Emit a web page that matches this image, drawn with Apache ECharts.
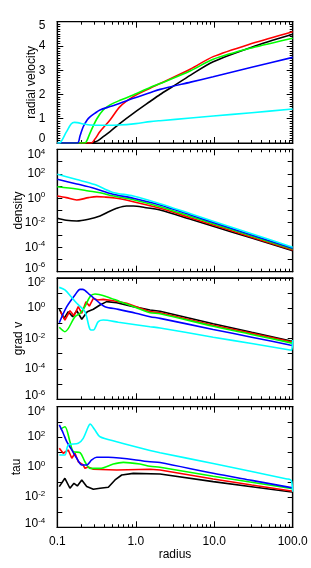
<!DOCTYPE html>
<html><head><meta charset="utf-8">
<script src="https://cdn.jsdelivr.net/npm/echarts@6/dist/echarts.min.js"></script>
<style>html,body{margin:0;padding:0;background:#fff}#c{width:311px;height:568px}</style>
</head><body><div id="c"></div>
<script>
// ---- tick values / labels ----
const xTicks = [0.1, 1, 10, 100];
const xTickLabels = ['0.1', '1.0', '10.0', '100.0'];
const xMinorTicks = [0.2,0.3,0.4,0.5,0.6,0.7,0.8,0.9,2,3,4,5,6,7,8,9,20,30,40,50,60,70,80,90];
const panelNames = ['radial velocity', 'density', 'grad v', 'tau'];
const xName = 'radius';
const velTicks = [0, 1, 2, 3, 4, 5];
const denLabelTicks = [1e-6, 1e-4, 1e-2, 1, 1e2, 1e4];
const denTicks = [1e-6,1e-5,1e-4,1e-3,1e-2,1e-1,1,1e1,1e2,1e3,1e4];
const gradLabelTicks = [1e-6, 1e-4, 1e-2, 1, 1e2];
const gradTicks = [1e-6,1e-5,1e-4,1e-3,1e-2,1e-1,1,1e1,1e2];
const tauLabelTicks = [1e-4, 1e-2, 1, 1e2, 1e4];
const tauTicks = [1e-4,1e-3,1e-2,1e-1,1,1e1,1e2,1e3,1e4];

// ---- panel 1: radial velocity ----
const velBlack = [[0.1,0],[0.28,0],[0.3,0.04],[0.33,0.1],[0.385,0.26],[0.47,0.47],[0.63,0.81],[0.93,1.22],[1.52,1.71],[2.04,2.0],[2.86,2.3],[5,2.8],[9.7,3.35],[30,3.95],[100,4.48]];
const velRed = [[0.1,0],[0.27,0],[0.3,0.15],[0.35,0.47],[0.47,0.95],[0.63,1.5],[0.93,1.91],[1.52,2.26],[2.04,2.45],[5,3.05],[9.7,3.56],[30,4.1],[100,4.59]];
const velGreen = [[0.1,0],[0.225,0],[0.24,0.12],[0.261,0.41],[0.318,0.99],[0.385,1.36],[0.47,1.57],[0.63,1.76],[0.93,1.98],[1.52,2.29],[2.04,2.45],[5,2.98],[9.7,3.45],[30,3.92],[100,4.32]];
const velBlue = [[0.1,0],[0.18,0],[0.195,0.3],[0.214,0.67],[0.24,0.95],[0.261,1.08],[0.3,1.22],[0.35,1.36],[0.47,1.5],[0.63,1.64],[0.93,1.84],[1.52,2.07],[2.04,2.21],[5,2.51],[9.7,2.73],[30,3.12],[100,3.53]];
const velCyan = [[0.1,0],[0.106,0],[0.13,0.45],[0.15,0.78],[0.165,0.85],[0.18,0.84],[0.22,0.78],[0.26,0.74],[0.4,0.73],[0.6,0.74],[1,0.8],[1.52,0.88],[2.04,0.92],[5,1.03],[9.7,1.11],[30,1.25],[100,1.4]];

// ---- panel 2: density ----
const denBlack = [[0.1,0.0229],[0.13,0.0158],[0.177,0.0138],[0.25,0.0191],[0.35,0.0355],[0.45,0.0794],[0.57,0.151],[0.76,0.234],[0.93,0.234],[1.3,0.178],[2.04,0.110],[5,0.0191],[9.7,5.13e-3],[30,5.62e-4],[100,5.25e-5]];
const denRed = [[0.1,1.51],[0.13,1.12],[0.177,0.724],[0.25,1.12],[0.318,1.35],[0.4,1.26],[0.57,1.0],[0.93,0.525],[2.04,0.151],[5,0.0248],[9.7,6.50e-3],[30,6.65e-4],[100,5.89e-5]];
const denGreen = [[0.1,8.71],[0.177,5.75],[0.25,3.98],[0.35,2.82],[0.5,1.58],[0.93,0.759],[2.04,0.204],[5,0.0324],[9.7,8.32e-3],[30,8.32e-4],[100,7.08e-5]];
const denBlue = [[0.1,35.5],[0.177,14.8],[0.3,6.31],[0.5,2.24],[0.93,1.0],[2.04,0.282],[5,0.0432],[9.7,0.0107],[30,1.01e-3],[100,8.13e-5]];
const denCyan = [[0.1,91.2],[0.177,33.9],[0.3,13.2],[0.5,3.16],[0.93,1.51],[2.04,0.355],[5,0.0537],[9.7,0.0135],[30,1.26e-3],[100,1.0e-4]];

// ---- panel 3: grad v ----
const gradBlack = [[0.106,0.851],[0.122,0.214],[0.138,0.589],[0.157,0.275],[0.177,0.676],[0.205,0.186],[0.241,0.589],[0.288,0.851],[0.35,1.62],[0.426,2.69],[0.571,2.29],[0.93,1.26],[1.52,0.759],[2.04,0.631],[9.7,0.0933],[30,0.0257],[92,7.24e-3],[100,6.92e-3]];
const gradRed = [[0.11,0.589],[0.125,0.166],[0.145,0.676],[0.163,0.316],[0.185,1.26],[0.205,0.457],[0.232,2.69],[0.256,1.38],[0.288,4.47],[0.324,3.47],[0.385,3.80],[0.518,3.09],[0.766,2.09],[1.52,0.589],[2.04,0.501],[9.7,0.0759],[30,0.0219],[92,6.31e-3],[100,6.03e-3]];
const gradGreen = [[0.106,0.0550],[0.125,0.0282],[0.168,0.275],[0.195,0.457],[0.225,1.26],[0.261,5.75],[0.302,8.51],[0.34,7.94],[0.426,5.75],[0.63,2.69],[1.0,1.12],[1.52,0.501],[2.04,0.427],[9.7,0.0646],[30,0.0186],[92,5.37e-3],[100,5.01e-3]];
const gradBlue = [[0.106,0.110],[0.132,1.26],[0.168,7.41],[0.195,17.4],[0.21,17.4],[0.261,7.41],[0.35,2.09],[0.405,1.26],[0.6,0.832],[1.0,0.468],[1.52,0.275],[2.04,0.214],[9.7,0.0398],[30,0.0123],[92,3.80e-3],[100,3.55e-3]];
const gradCyan = [[0.106,23.4],[0.125,15.8],[0.15,5.62],[0.177,2.09],[0.225,0.589],[0.261,0.0407],[0.288,0.0363],[0.333,0.129],[0.385,0.166],[0.6,0.118],[1.0,0.0813],[1.52,0.0603],[2.04,0.0501],[9.7,0.0123],[30,4.68e-3],[92,1.78e-3],[97,1.70e-3],[100,7.94e-3]];

// ---- panel 4: tau ----
const tauBlack = [[0.106,0.0501],[0.125,0.178],[0.145,0.0389],[0.163,0.0832],[0.18,0.0550],[0.205,0.138],[0.237,0.0501],[0.288,0.0331],[0.35,0.0389],[0.447,0.0457],[0.544,0.138],[0.662,0.295],[0.93,0.380],[2.04,0.347],[9.7,0.107],[30,0.0490],[92,0.0229],[100,0.0219]];
const tauRed = [[0.106,17.4],[0.119,8.13],[0.138,13.5],[0.153,3.80],[0.168,8.13],[0.185,2.24],[0.214,1.35],[0.225,0.813],[0.248,1.0],[0.288,0.708],[0.571,0.631],[1.52,0.708],[2.04,0.631],[9.7,0.162],[30,0.0646],[92,0.0269],[100,0.0251]];
const tauGreen = [[0.11,316],[0.125,468],[0.145,47.9],[0.16,10.5],[0.195,8.91],[0.225,2.24],[0.261,0.813],[0.35,0.813],[0.518,1.58],[0.694,2.04],[1.13,1.58],[1.52,1.12],[2.04,0.955],[9.7,0.245],[30,0.0977],[92,0.0389],[100,0.0372]];
const tauBlue = [[0.106,617],[0.119,174],[0.132,47.9],[0.153,13.5],[0.177,3.80],[0.205,1.35],[0.237,1.35],[0.274,2.95],[0.318,4.47],[0.447,4.47],[1.52,2.24],[2.04,2.0],[9.7,0.380],[30,0.129],[92,0.0447],[100,0.0417]];
const tauCyan = [[0.106,6.31],[0.125,6.31],[0.138,28.8],[0.185,37.2],[0.214,79.4],[0.248,468],[0.261,708],[0.302,282],[0.35,102],[0.571,47.9],[1.52,12.6],[2.04,8.91],[9.7,1.70],[30,0.501],[84.5,0.162],[93,0.145],[97,0.112],[100,0.0229]];

const colors = {black:'#000000', red:'#ff0000', green:'#00ff00', blue:'#0000ff', cyan:'#00ffff'};
const panels = [
  {name: panelNames[0], series: [['black',velBlack,true],['red',velRed,true],['green',velGreen,true],['blue',velBlue,true],['cyan',velCyan,true]]},
  {name: panelNames[1], series: [['black',denBlack,true],['red',denRed,true],['green',denGreen,true],['blue',denBlue,true],['cyan',denCyan,true]]},
  {name: panelNames[2], series: [['black',gradBlack,false],['red',gradRed,false],['green',gradGreen,true],['blue',gradBlue,true],['cyan',gradCyan,true]]},
  {name: panelNames[3], series: [['black',tauBlack,false],['red',tauRed,false],['green',tauGreen,true],['blue',tauBlue,true],['cyan',tauCyan,true]]}
];

const FONT = '"Liberation Sans", Arial, Helvetica, sans-serif';
const layout = [
  {top: 21.7, height: 121.3, nameGap: 20},
  {top: 149.3, height: 122.4, nameGap: 33},
  {top: 277.8, height: 121.5, nameGap: 33},
  {top: 406.7, height: 120.6, nameGap: 35}
];
const LEFT = 57.3, RIGHT = 311 - 292.7;

const rich = {
  b: {fontSize: 12, fontFamily: FONT, color: '#000', lineHeight: 14},
  s: {fontSize: 8, fontFamily: FONT, color: '#000', lineHeight: 8, verticalAlign: 'top'},
  n: {fontSize: 12, fontFamily: FONT, color: '#000', lineHeight: 14},
  spT: {fontSize: 1, lineHeight: 10},
  spB: {fontSize: 1, lineHeight: 7},
  spT1: {fontSize: 1, lineHeight: 7},
  spB1: {fontSize: 1, lineHeight: 8}
};
function near(a, b) { return Math.abs(Math.log10(a) - Math.log10(b)) < 0.01; }
function powFormatter(lim) {
  return v => {
    const e = Math.round(Math.log10(v));
    const t = '{b|10}{s|' + e + '}';
    if (near(v, lim[1])) return '{spT| }\n' + t;
    if (near(v, lim[0])) return t + '\n{spB| }';
    return t;
  };
}

const grid = [], xAxis = [], yAxis = [], series = [];
const axLine = {show: true, onZero: false, lineStyle: {color: '#000', width: 1.2}};

panels.forEach((p, i) => {
  grid.push({left: LEFT, right: RIGHT, top: layout[i].top, height: layout[i].height,
    show: true, borderColor: '#000', borderWidth: 1.2, backgroundColor: 'transparent'});
  const last = i === 3;
  ['bottom', 'top'].forEach(pos => {
    [false, true].forEach(minor => {
      const ax = {
        type: 'log', logBase: 10, gridIndex: i, position: pos, min: 0.1, max: 100,
        axisLine: axLine,
        axisTick: {show: true, inside: true, length: minor ? 3 : 6,
          lineStyle: {color: '#000', width: 1}, customValues: minor ? xMinorTicks : xTicks},
        axisLabel: {show: false},
        splitLine: {show: false}, minorTick: {show: false}
      };
      if (pos === 'bottom' && !minor && last) {
        ax.axisLabel = {show: true, customValues: xTicks, margin: 8, fontSize: 12, fontFamily: FONT, color: '#000',
          formatter: v => { let k = 0, d = 1e9; xTicks.forEach((t, j) => { const dd = Math.abs(Math.log10(t) - Math.log10(v)); if (dd < d) { d = dd; k = j; } }); return xTickLabels[k]; }};
        ax.name = xName; ax.nameLocation = 'middle'; ax.nameGap = 21;
        ax.nameTextStyle = {fontSize: 12, fontFamily: FONT, color: '#000'};
      }
      xAxis.push(ax);
    });
  });
  ['left', 'right'].forEach(pos => {
    let ax;
    if (i === 0) {
      ax = {type: 'value', min: 0, max: 5, interval: 1,
        axisTick: {show: true, inside: true, length: 6, lineStyle: {color: '#000'}},
        minorTick: {show: true, splitNumber: 10, length: 3, lineStyle: {color: '#000'}},
        axisLabel: {show: pos === 'left', margin: 12, rich: rich,
          formatter: v => {
            const t = '{n|' + velTicks[velTicks.indexOf(v)] + '}';
            if (v === 5) return '{spT1| }\n' + t;
            if (v === 0) return t + '\n{spB1| }';
            return t;
          }}};
    } else {
      const lim = i === 1 ? [1e-6, 1e4] : i === 2 ? [1e-6, 1e2] : [1e-4, 1e4];
      const ticks = i === 1 ? denTicks : i === 2 ? gradTicks : tauTicks;
      const labs = i === 1 ? denLabelTicks : i === 2 ? gradLabelTicks : tauLabelTicks;
      ax = {type: 'log', logBase: 10, min: lim[0], max: lim[1], splitNumber: i === 1 ? 5 : 4,
        axisTick: {show: true, inside: true, length: 5, lineStyle: {color: '#000'}, customValues: ticks},
        minorTick: {show: false},
        axisLabel: {show: pos === 'left', customValues: labs, margin: 12, formatter: powFormatter(lim), rich: rich}};
    }
    ax.gridIndex = i; ax.position = pos;
    ax.axisLine = axLine; ax.splitLine = {show: false};
    if (pos === 'left') {
      ax.name = p.name; ax.nameLocation = 'middle'; ax.nameGap = layout[i].nameGap;
      ax.nameMoveOverlap = false;
      ax.nameTextStyle = {fontSize: 12, fontFamily: FONT, color: '#000'};
    }
    yAxis.push(ax);
  });
  p.series.forEach(([c, data, sm]) => {
    series.push({type: 'line', xAxisIndex: 4 * i, yAxisIndex: 2 * i, data: data,
      showSymbol: false, symbol: 'none', smooth: sm ? 0.3 : false,
      lineStyle: {color: colors[c], width: 1.6}, clip: true, animation: false, silent: true});
  });
});

const chart = echarts.init(document.getElementById('c'), null, {renderer: 'canvas'});
chart.setOption({animation: false, backgroundColor: '#fff', grid, xAxis, yAxis, series,
  textStyle: {fontFamily: FONT}});
</script></body></html>
